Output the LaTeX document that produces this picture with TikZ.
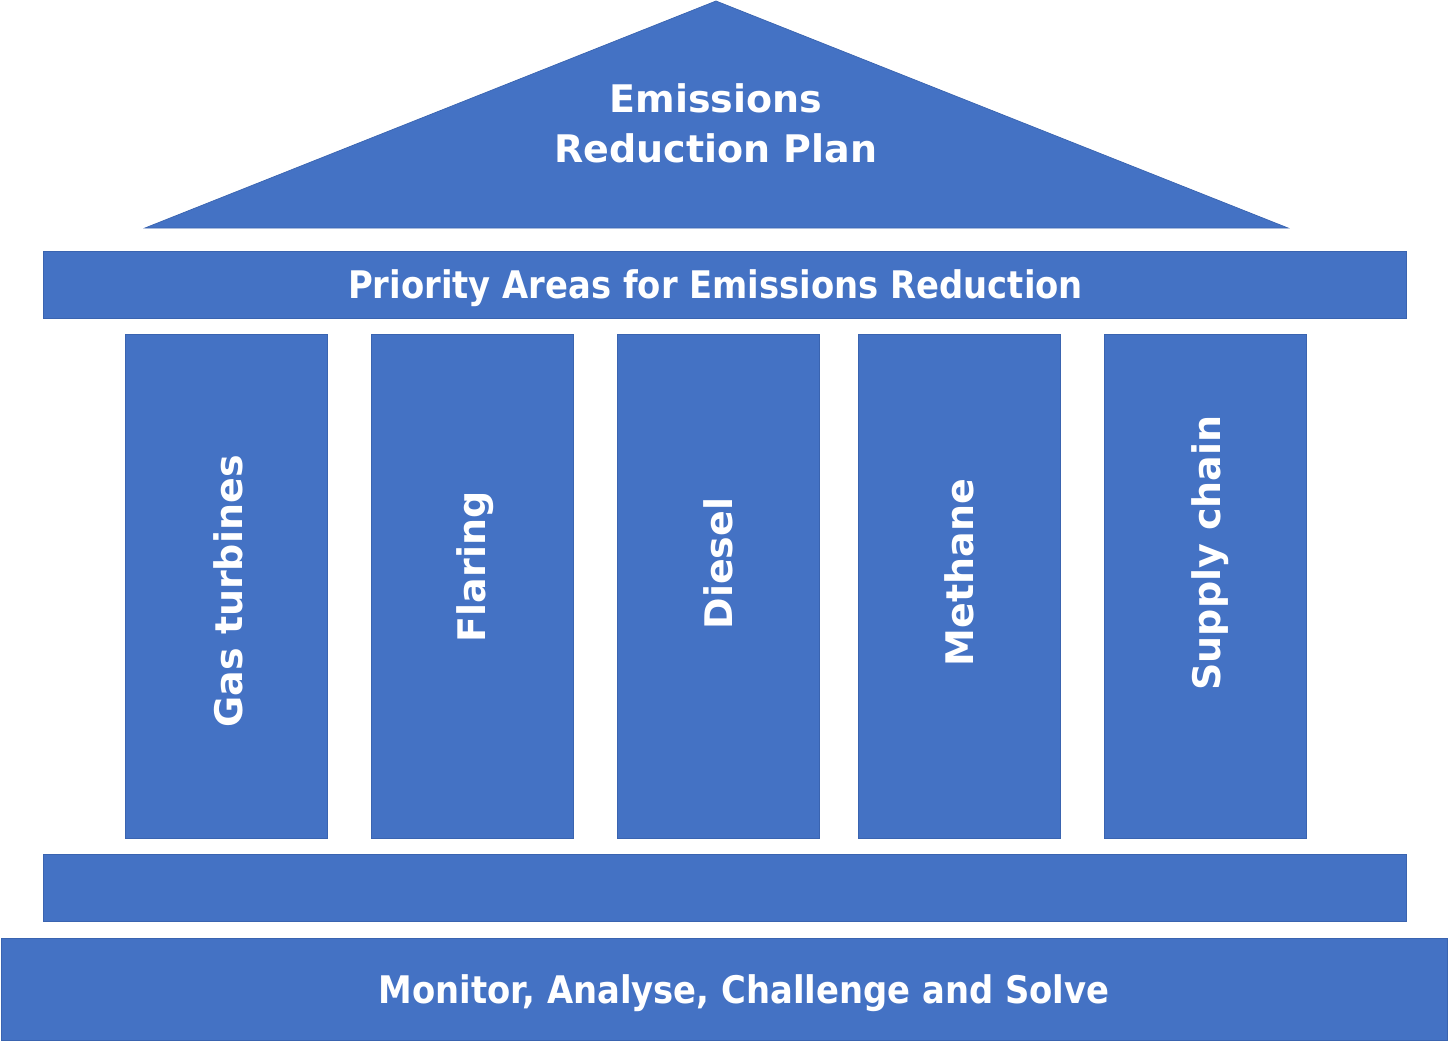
\documentclass[tikz,border=0pt]{standalone}
\usepackage{fontspec}
\setmainfont{DejaVu Sans}
\newfontfamily\beamfont{DejaVu Sans}[FakeStretch=0.89]
\usepackage{tikz}
\definecolor{planblue}{HTML}{4472C4}
\definecolor{planedge}{HTML}{3A64B0}

\begin{document}
\begin{tikzpicture}[x=1pt,y=-1pt,
    block/.style={fill=planblue,draw=planedge,line width=0.7pt,inner sep=0pt},
    beam/.style={block,minimum width=1363pt,minimum height=67pt},
    beamtext/.style={text=white,anchor=base,inner sep=0pt,
                     font=\beamfont\fontsize{38}{50}\selectfont\bfseries},
    pillar/.style={block,minimum width=202pt,minimum height=504pt},
    pillartext/.style={text=white,rotate=90,anchor=base,inner sep=0pt,
                       font=\fontsize{38}{50}\selectfont\bfseries}]
    \useasboundingbox (0,0) rectangle (1448,1041);

    % roof
    \draw[fill=planblue,draw=planedge,line width=0.7pt] (716,1) -- (1288,228) -- (145,228) -- cycle;
    \node[text=white,font=\fontsize{38}{50}\selectfont\bfseries,align=center,anchor=base] (roof) at (716,162) {Emissions\\Reduction Plan};

    % beams
    \node[beam] (top) at (724.5,284.5) {};
    \node[beamtext] (toplabel) at (715.5,298) {Priority Areas for Emissions Reduction};
    \node[beam] (bottom) at (724.5,887.5) {};

    % pillars
    \node[pillar] (gas) at (226,586) {};
    \node[pillar] (flaring) at (472.5,586) {};
    \node[pillar] (diesel) at (718,586) {};
    \node[pillar] (methane) at (959,586) {};
    \node[pillar] (supply) at (1205,586) {};
    \node[pillartext] (gaslabel) at (242,591.5) {Gas turbines};
    \node[pillartext] (flaringlabel) at (485,567) {Flaring};
    \node[pillartext] (diesellabel) at (732,563.5) {Diesel};
    \node[pillartext] (methanelabel) at (973,572.5) {Methane};
    \node[pillartext] (supplylabel) at (1220,553) {Supply chain};

    % base
    \node[block,minimum width=1446pt,minimum height=102pt] (base) at (724,989) {};
    \node[beamtext] (baselabel) at (744,1003) {Monitor, Analyse, Challenge and Solve};

\end{tikzpicture}
\end{document}
